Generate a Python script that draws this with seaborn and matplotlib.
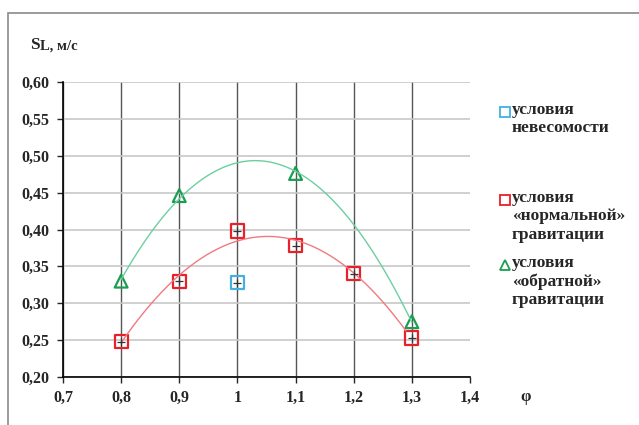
import numpy as np
import pandas as pd
import seaborn as sns
import matplotlib.pyplot as plt
from matplotlib.patches import Rectangle
from matplotlib.lines import Line2D

sns.set_style("white")
plt.rcParams['font.family'] = ['Liberation Serif', 'DejaVu Serif']
plt.rcParams['font.weight'] = 'bold'

# данные
phi_norm = [0.8, 0.9, 1.0, 1.1, 1.2, 1.3]
sl_norm = [0.248, 0.330, 0.398, 0.378, 0.340, 0.253]
phi_inv = [0.8, 0.9, 1.1, 1.3]
sl_inv = [0.330, 0.446, 0.476, 0.275]
phi_zero = [1.0]
sl_zero = [0.328]

labels = ["условия\nневесомости",
          "условия\n«нормальной»\nгравитации",
          "условия\n«обратной»\nгравитации"]

c_zero = "#45b0e0"
c_norm = "#e8202a"
c_inv = "#1a9e52"

W, H = 639, 425
fig = plt.figure(figsize=(6.39, 4.25), dpi=100)
fig.patches.append(Rectangle((8 / W, -0.1), 1.0, 1 - 13 / H + 0.1, transform=fig.transFigure,
                             fill=False, edgecolor="#8a8a8a", linewidth=1.2))
ax = fig.add_axes([63 / W, 1 - 377 / H, (470 - 63) / W, (377 - 82) / H])

# линии тренда (полином 2-й степени)
xs = np.linspace(0.8, 1.3, 200)
p_inv = np.polyfit(phi_inv, sl_inv, 2)
xr = np.linspace(0.8, 1.29, 200)
p_norm = np.polyfit(phi_norm, sl_norm, 2)
sns.lineplot(x=xs, y=np.polyval(p_inv, xs), ax=ax, color="#6ccfa0", linewidth=1.0)
sns.lineplot(x=xr, y=np.polyval(p_norm, xr), ax=ax, color="#f07a80", linewidth=1.0)

sns.scatterplot(x=phi_zero, y=sl_zero, ax=ax, marker="s", s=90, facecolor="none",
                edgecolor=c_zero, linewidth=1.6)
sns.scatterplot(x=phi_norm, y=sl_norm, ax=ax, marker="s", s=90, facecolor="none",
                edgecolor=c_norm, linewidth=1.6)
sns.scatterplot(x=phi_inv, y=sl_inv, ax=ax, marker="^", s=85, facecolor="none",
                edgecolor=c_inv, linewidth=1.6)
# маленькие крестики (погрешность)
ax.scatter(phi_norm + phi_zero, sl_norm + sl_zero, marker="+", s=28, color="#333333", linewidth=0.9, zorder=4)

ax.set_xlim(0.7, 1.4)
ax.set_ylim(0.20, 0.60)
xt = [0.7, 0.8, 0.9, 1.0, 1.1, 1.2, 1.3, 1.4]
ax.set_xticks(xt)
ax.set_xticklabels(["0,7", "0,8", "0,9", "1", "1,1", "1,2", "1,3", "1,4"], fontsize=11.5, fontweight="bold")
yt = np.arange(0.20, 0.601, 0.05)
ax.set_yticks(yt)
ax.set_yticklabels([f"{v:.2f}".replace(".", ",") for v in yt], fontsize=11.5, fontweight="bold")
ax.xaxis.grid(True, color="#555555", linewidth=1.0)
ax.yaxis.grid(True, color="#c8c8c8", linewidth=1.2)
ax.get_xgridlines()[-1].set_visible(False)
ax.set_axisbelow(True)
for s in ["top", "right"]:
    ax.spines[s].set_visible(False)
for s in ["left", "bottom"]:
    ax.spines[s].set_color("black")
    ax.spines[s].set_linewidth(1.2)
ax.tick_params(axis="y", direction="out", length=4, width=1, left=True, pad=6)
ax.tick_params(axis="x", direction="out", length=4, width=1, bottom=True, pad=5)
ax.set_xlabel("")
ax.set_ylabel("")

fig.text(30 / W, 1 - 45 / H, "S", fontsize=12.5, fontweight="bold", va="center")
fig.text(40 / W, 1 - 46 / H, "L, м/с", fontsize=10.5, fontweight="bold", va="center")
fig.text(520 / W, 1 - 397 / H, "φ", fontsize=12, fontweight="bold", va="center")

# легенда
leg_y = [112, 200, 265]
leg_mk = [("s", c_zero), ("s", c_norm), ("^", c_inv)]
for y, (m, c), lab in zip(leg_y, leg_mk, labels):
    fig.add_artist(Line2D([505 / W], [1 - y / H], marker=m, markersize=6.5, markerfacecolor="none",
                          markeredgecolor=c, markeredgewidth=1.3, linestyle="none",
                          transform=fig.transFigure))
    fig.text(512 / W, 1 - (y - 10) / H, lab, fontsize=12.5, fontweight="bold", va="top",
             ha="left", linespacing=1.2)

fig.savefig("out.png", dpi=100)
